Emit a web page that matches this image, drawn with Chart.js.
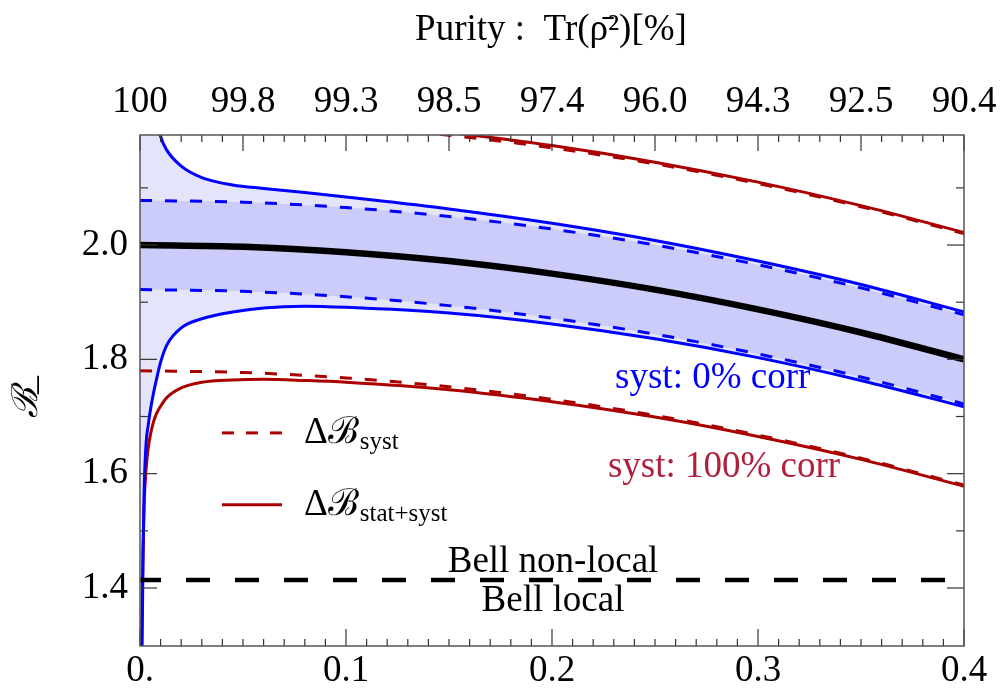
<!DOCTYPE html>
<html>
<head>
<meta charset="utf-8">
<script src="https://cdn.jsdelivr.net/npm/chart.js@4.4.0/dist/chart.umd.min.js"></script>
<style>
  html, body { margin: 0; padding: 0; background: #fff; }
</style>
</head>
<body>
<canvas id="chart" width="1000" height="695"></canvas>
<script>
// x values (bottom axis) and the curves
const xMain = [0, 0.05, 0.1, 0.15, 0.2, 0.25, 0.3, 0.35, 0.4];
const bCentral   = [2.000, 1.997, 1.9875, 1.972, 1.950, 1.922, 1.8875, 1.847, 1.800];
const bSyst0Up   = [2.078, 2.075, 2.0655, 2.050, 2.028, 2.000, 1.9655, 1.925, 1.878];
const bSyst0Dn   = [1.922, 1.919, 1.9095, 1.894, 1.872, 1.844, 1.8095, 1.769, 1.722];
const bSyst100Up = [2.220, 2.217, 2.2075, 2.192, 2.170, 2.142, 2.1075, 2.067, 2.020];
const bSyst100Dn = [1.780, 1.777, 1.7675, 1.752, 1.730, 1.702, 1.6675, 1.627, 1.580];

const xStat = [0.0005, 0.001, 0.0015, 0.002, 0.003, 0.004, 0.005, 0.0065, 0.008, 0.01, 0.013,
               0.02, 0.03, 0.045, 0.06, 0.08, 0.1, 0.15, 0.2, 0.25, 0.3, 0.35, 0.4];
const bTot0Up   = [3.0, 2.85, 2.72, 2.62, 2.50, 2.40, 2.33, 2.265, 2.225, 2.19, 2.166,
                   2.138, 2.118, 2.105, 2.099, 2.092, 2.084, 2.063, 2.038, 2.008, 1.972, 1.931, 1.883];
const bTot0Dn   = [1.05, 1.30, 1.46, 1.57, 1.655, 1.685, 1.71, 1.74, 1.765, 1.795, 1.825,
                   1.855, 1.871, 1.883, 1.890, 1.893, 1.891, 1.881, 1.862, 1.836, 1.803, 1.763, 1.717];
const bTot100Dn = [1.20, 1.36, 1.47, 1.545, 1.61, 1.645, 1.667, 1.69, 1.705, 1.718, 1.733,
                   1.750, 1.760, 1.764, 1.765, 1.763, 1.760, 1.747, 1.726, 1.699, 1.665, 1.625, 1.578];
const xTot100Up = [0.14, 0.15, 0.2, 0.25, 0.3, 0.35, 0.4];
const bTot100Up = [2.201, 2.197, 2.174, 2.145, 2.110, 2.069, 2.022];

const bellX = [0, 0.4];
const bellBound = [1.414, 1.414];

// tick labels
const xTicks = [0, 0.1, 0.2, 0.3, 0.4];
const xTickLabels = ['0.', '0.1', '0.2', '0.3', '0.4'];
const purityPos = [0, 0.05, 0.1, 0.15, 0.2, 0.25, 0.3, 0.35, 0.4];
const purityLabels = ['100', '99.8', '99.3', '98.5', '97.4', '96.0', '94.3', '92.5', '90.4'];
const yTicks = [1.4, 1.6, 1.8, 2.0];
const yTickLabels = ['1.4', '1.6', '1.8', '2.0'];

const SERIF = "'Liberation Serif', 'DejaVu Serif', serif";
const BLUE = '#0000ff';
const RED = '#aa0000';

const pts = (xs, ys) => xs.map((v, i) => ({ x: v, y: ys[i] }));

// frame, inward ticks, labels and legend
const decor = {
  id: 'decor',
  afterDraw(chart) {
    const { ctx, chartArea: a, scales } = chart;
    const xs = scales.x, ys = scales.y;
    const line = (x1, y1, x2, y2) => { ctx.beginPath(); ctx.moveTo(x1, y1); ctx.lineTo(x2, y2); ctx.stroke(); };
    ctx.save();
    ctx.strokeStyle = '#333';
    ctx.lineWidth = 1.2;
    for (let i = 0; i <= 40; i++) {
      const px = xs.getPixelForValue(i / 100);
      line(px, a.bottom, px, a.bottom - (i % 10 === 0 ? 17 : 7));
      line(px, a.top, px, a.top + (i % 5 === 0 ? 16 : 7));
    }
    for (let i = 14; i <= 21; i++) {
      const py = ys.getPixelForValue(i / 10);
      const len = i % 2 === 0 ? 17 : 8;
      line(a.left, py, a.left + len, py);
      line(a.right, py, a.right - len, py);
    }
    ctx.strokeStyle = '#555';
    ctx.lineWidth = 1.5;
    ctx.strokeRect(a.left, a.top, a.right - a.left, a.bottom - a.top);

    // title
    ctx.fillStyle = '#000';
    ctx.font = '37px ' + SERIF;
    ctx.textAlign = 'center';
    ctx.textBaseline = 'middle';
    ctx.fillText('Purity :  Tr(ρ̄²)[%]', 551, 30);

    // y axis label, rotated
    ctx.save();
    ctx.translate(28, 404);
    ctx.rotate(-Math.PI / 2);
    ctx.font = 'italic 36px ' + SERIF;
    ctx.textAlign = 'left';
    ctx.fillText('ℬ', -14, 0);
    ctx.fillText('–', 10, 10);
    ctx.restore();

    // annotations
    const at = (x, y) => [xs.getPixelForValue(x), ys.getPixelForValue(y)];
    ctx.font = '37px ' + SERIF;
    ctx.textAlign = 'center';
    let p = at(0.278, 1.7675);
    ctx.fillStyle = BLUE; ctx.fillText('syst: 0% corr', p[0], p[1]);
    p = at(0.2835, 1.612);
    ctx.fillStyle = '#b0203c'; ctx.fillText('syst: 100% corr', p[0], p[1]);
    ctx.fillStyle = '#000';
    p = at(0.2005, 1.4458); ctx.fillText('Bell non-local', p[0], p[1]);
    p = at(0.2005, 1.376); ctx.fillText('Bell local', p[0], p[1]);

    // legend
    const legend = [[1.6713, [12, 12], 'syst'], [1.5455, [], 'stat+syst']];
    legend.forEach(([yv, dash, sub]) => {
      const l = at(0.0398, yv), r = at(0.0689, yv);
      ctx.strokeStyle = RED; ctx.lineWidth = 3; ctx.setLineDash(dash);
      line(l[0], l[1], r[0], r[1]);
      ctx.setLineDash([]);
      ctx.fillStyle = '#000';
      ctx.textAlign = 'left';
      ctx.font = '37px ' + SERIF;
      ctx.fillText('Δℬ', 304, l[1]);
      const w = ctx.measureText('Δℬ').width;
      ctx.font = '25px ' + SERIF;
      ctx.fillText(sub, 304 + w + 1, l[1] + 10);
    });
    ctx.restore();
  }
};

const curve = (xs, ys, color, extra) => Object.assign({
  data: pts(xs, ys), borderColor: color, borderWidth: 3, fill: false
}, extra || {});

const noPad = s => { s.paddingLeft = 0; s.paddingRight = 0; s.paddingTop = 0; s.paddingBottom = 0; };

new Chart(document.getElementById('chart'), {
  type: 'line',
  data: {
    datasets: [
      curve(xMain, bCentral, '#000', { borderWidth: 6.5 }),
      curve(bellX, bellBound, '#000', { borderWidth: 4.5, borderDash: [24, 25], borderDashOffset: 3 }),
      curve(xMain, bSyst0Up, BLUE, { borderDash: [12, 13], fill: '+1', backgroundColor: '#ccccfb' }),
      curve(xMain, bSyst0Dn, BLUE, { borderDash: [12, 13] }),
      curve(xStat, bTot0Up, BLUE, { fill: '+1', backgroundColor: '#e4e4fb' }),
      curve(xStat, bTot0Dn, BLUE),
      curve(xMain, bSyst100Up, RED, { borderDash: [12, 13] }),
      curve(xMain, bSyst100Dn, RED, { borderDash: [12, 13] }),
      curve(xTot100Up, bTot100Up, RED),
      curve(xStat, bTot100Dn, RED)
    ]
  },
  options: {
    responsive: false,
    animation: false,
    layout: { padding: { right: 36, left: 0, top: 0, bottom: 0 } },
    elements: {
      point: { radius: 0 },
      line: { cubicInterpolationMode: 'monotone' }
    },
    datasets: { line: { clip: 0 } },
    plugins: {
      legend: { display: false },
      tooltip: { enabled: false },
      filler: { drawTime: 'beforeDatasetsDraw' }
    },
    scales: {
      x: {
        type: 'linear', position: 'bottom', min: 0, max: 0.4,
        afterBuildTicks: s => { s.ticks = xTicks.map(v => ({ value: v })); },
        afterFit: s => { s.height = 49; noPad(s); },
        grid: { display: false, drawTicks: false },
        border: { display: false },
        ticks: {
          callback: (v, i) => xTickLabels[i],
          font: { family: SERIF, size: 37 }, color: '#000', padding: 3,
          maxRotation: 0, autoSkip: false
        }
      },
      x2: {
        type: 'linear', position: 'top', min: 0, max: 0.4,
        afterBuildTicks: s => { s.ticks = purityPos.map(v => ({ value: v })); },
        afterFit: s => { s.height = 135; noPad(s); },
        grid: { display: false, drawTicks: false },
        border: { display: false },
        ticks: {
          callback: (v, i) => purityLabels[i],
          font: { family: SERIF, size: 37 }, color: '#000', padding: 11,
          maxRotation: 0, autoSkip: false
        }
      },
      y: {
        type: 'linear', position: 'left', min: 1.2985, max: 2.1925,
        afterBuildTicks: s => { s.ticks = yTicks.map(v => ({ value: v })); },
        afterFit: s => { s.width = 140; noPad(s); },
        grid: { display: false, drawTicks: false },
        border: { display: false },
        ticks: {
          callback: (v, i) => yTickLabels[i],
          font: { family: SERIF, size: 37 }, color: '#000', padding: 12
        }
      }
    }
  },
  plugins: [decor]
});
</script>
</body>
</html>
